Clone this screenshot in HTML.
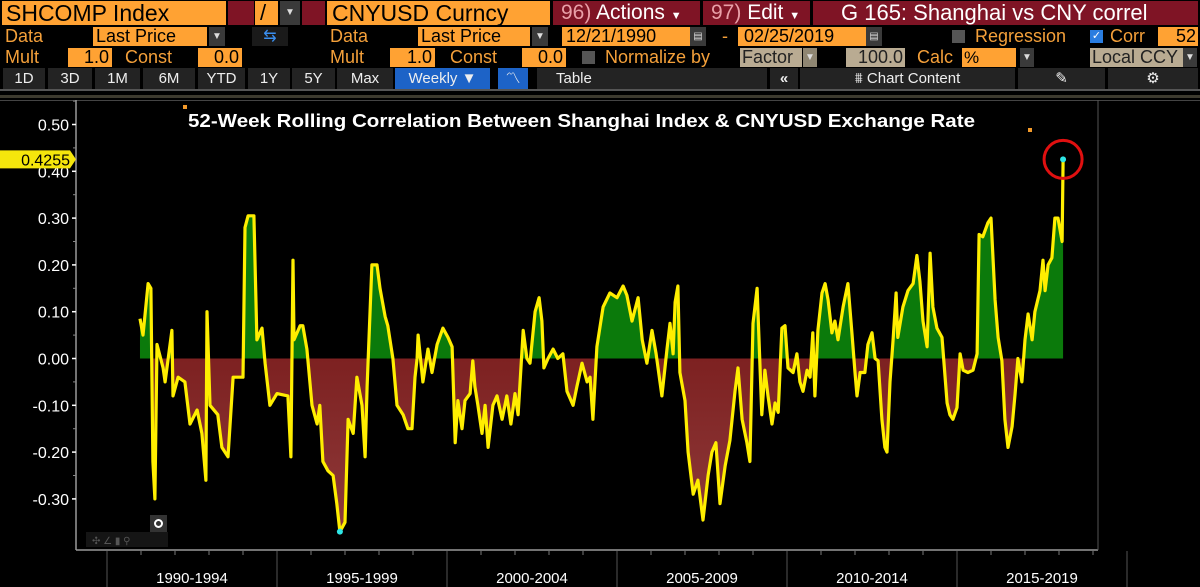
<!DOCTYPE html>
<html><head><meta charset="utf-8">
<style>
body{margin:0;width:1200px;height:587px;background:#000;overflow:hidden;font-family:"Liberation Sans",sans-serif;position:relative}
.a{position:absolute;box-sizing:border-box;white-space:nowrap}
.ob{background:#ffa233;color:#000}
.dr{background:#7f1425;color:#fff}
.ot{color:#f4a03a}
.gb{background:#3a3a3a;color:#ddd;font-size:10px;text-align:center}
.bt{background:#232323;color:#eee;font-size:15px;text-align:center;line-height:21px;top:68px;height:21px}
.bg{background:#b9ab92;color:#222}
</style></head><body>
<div class="a ob" style="left:2px;top:1px;width:224px;height:24px;font-size:23px;line-height:24px;padding-left:4px">SHCOMP Index</div>
<div class="a dr" style="left:228px;top:1px;width:26px;height:24px"></div>
<div class="a ob" style="left:255px;top:1px;width:23px;height:24px;font-size:22px;line-height:24px;padding-left:5px">/</div>
<div class="a gb" style="left:280px;top:1px;width:20px;height:24px;line-height:24px">▼</div>
<div class="a dr" style="left:302px;top:1px;width:23px;height:24px"></div>
<div class="a ob" style="left:327px;top:1px;width:223px;height:24px;font-size:23px;line-height:24px;padding-left:5px">CNYUSD Curncy</div>
<div class="a dr" style="left:553px;top:1px;width:147px;height:24px;font-size:21px;line-height:24px;padding-left:8px"><span style="color:#e9a0a8">96)</span> Actions <span style="font-size:11px">▼</span></div>
<div class="a dr" style="left:703px;top:1px;width:107px;height:24px;font-size:21px;line-height:24px;padding-left:8px"><span style="color:#e9a0a8">97)</span> Edit <span style="font-size:11px">▼</span></div>
<div class="a dr" style="left:813px;top:1px;width:385px;height:24px;font-size:22px;line-height:24px;padding-left:28px">G 165: Shanghai vs CNY correl</div>

<div class="a ot" style="left:5px;top:26px;font-size:18px;line-height:21px">Data</div>
<div class="a ob" style="left:93px;top:27px;width:114px;height:19px;font-size:18px;line-height:19px;padding-left:3px">Last Price</div>
<div class="a gb" style="left:209px;top:27px;width:16px;height:19px;line-height:19px">▼</div>
<div class="a" style="left:252px;top:27px;width:36px;height:19px;background:#1a1a1a;color:#3a8ff0;font-size:16px;line-height:19px;text-align:center">⇆</div>
<div class="a ot" style="left:330px;top:26px;font-size:18px;line-height:21px">Data</div>
<div class="a ob" style="left:418px;top:27px;width:112px;height:19px;font-size:18px;line-height:19px;padding-left:3px">Last Price</div>
<div class="a gb" style="left:532px;top:27px;width:16px;height:19px;line-height:19px">▼</div>
<div class="a ob" style="left:562px;top:27px;width:128px;height:19px;font-size:18px;line-height:19px;padding-left:4px">12/21/1990</div>
<div class="a gb" style="left:690px;top:27px;width:16px;height:19px;line-height:19px">▤</div>
<div class="a ot" style="left:722px;top:26px;font-size:18px;line-height:21px">-</div>
<div class="a ob" style="left:738px;top:27px;width:128px;height:19px;font-size:18px;line-height:19px;padding-left:6px">02/25/2019</div>
<div class="a gb" style="left:866px;top:27px;width:16px;height:19px;line-height:19px">▤</div>
<div class="a" style="left:952px;top:30px;width:13px;height:13px;background:#555"></div>
<div class="a ot" style="left:975px;top:26px;font-size:18px;line-height:21px">Regression</div>
<div class="a" style="left:1090px;top:30px;width:13px;height:13px;background:#2a7de0;color:#fff;font-size:11px;line-height:13px;text-align:center">✓</div>
<div class="a ot" style="left:1110px;top:26px;font-size:18px;line-height:21px">Corr</div>
<div class="a ob" style="left:1158px;top:27px;width:40px;height:19px;font-size:18px;line-height:19px;text-align:right;padding-right:2px">52</div>

<div class="a ot" style="left:5px;top:47px;font-size:18px;line-height:21px">Mult</div>
<div class="a ob" style="left:68px;top:48px;width:44px;height:19px;font-size:18px;line-height:19px;text-align:right;padding-right:3px">1.0</div>
<div class="a ot" style="left:125px;top:47px;font-size:18px;line-height:21px">Const</div>
<div class="a ob" style="left:198px;top:48px;width:44px;height:19px;font-size:18px;line-height:19px;text-align:right;padding-right:3px">0.0</div>
<div class="a ot" style="left:330px;top:47px;font-size:18px;line-height:21px">Mult</div>
<div class="a ob" style="left:390px;top:48px;width:45px;height:19px;font-size:18px;line-height:19px;text-align:right;padding-right:3px">1.0</div>
<div class="a ot" style="left:450px;top:47px;font-size:18px;line-height:21px">Const</div>
<div class="a ob" style="left:522px;top:48px;width:44px;height:19px;font-size:18px;line-height:19px;text-align:right;padding-right:3px">0.0</div>
<div class="a" style="left:582px;top:51px;width:13px;height:13px;background:#555"></div>
<div class="a ot" style="left:605px;top:47px;font-size:18px;line-height:21px">Normalize by</div>
<div class="a bg" style="left:740px;top:48px;width:62px;height:19px;font-size:18px;line-height:19px;padding-left:2px">Factor</div>
<div class="a gb" style="left:803px;top:48px;width:14px;height:19px;line-height:19px;background:#8f8672">▼</div>
<div class="a bg" style="left:846px;top:48px;width:59px;height:19px;font-size:18px;line-height:19px;text-align:right;padding-right:2px">100.0</div>
<div class="a ot" style="left:917px;top:47px;font-size:18px;line-height:21px">Calc</div>
<div class="a ob" style="left:962px;top:48px;width:54px;height:19px;font-size:17px;line-height:19px;padding-left:2px">%</div>
<div class="a gb" style="left:1020px;top:48px;width:14px;height:19px;line-height:19px">▼</div>
<div class="a bg" style="left:1090px;top:48px;width:93px;height:19px;font-size:18px;line-height:19px;padding-left:2px">Local CCY</div>
<div class="a gb" style="left:1183px;top:48px;width:14px;height:19px;line-height:19px">▼</div>

<div class="a bt" style="left:3px;width:42px">1D</div>
<div class="a bt" style="left:48px;width:44px">3D</div>
<div class="a bt" style="left:95px;width:45px">1M</div>
<div class="a bt" style="left:143px;width:52px">6M</div>
<div class="a bt" style="left:198px;width:47px">YTD</div>
<div class="a bt" style="left:248px;width:42px">1Y</div>
<div class="a bt" style="left:292px;width:43px">5Y</div>
<div class="a bt" style="left:337px;width:56px">Max</div>
<div class="a bt" style="left:395px;width:95px;background:#1d63c7">Weekly ▼</div>
<div class="a bt" style="left:498px;width:30px;background:#1d63c7">〽</div>
<div class="a bt" style="left:537px;width:230px;text-align:left;padding-left:19px">Table</div>
<div class="a bt" style="left:770px;width:28px;font-weight:bold">«</div>
<div class="a bt" style="left:800px;width:215px">⩩ Chart Content</div>
<div class="a bt" style="left:1018px;width:87px">✎</div>
<div class="a bt" style="left:1108px;width:90px">⚙</div>

<svg class="a" style="left:0;top:0" width="1200" height="587">
<defs>
<linearGradient id="rg" x1="0" y1="0" x2="0" y2="1"><stop offset="0" stop-color="#6a0404"/><stop offset="1" stop-color="#8e3a3a"/></linearGradient>
<clipPath id="above"><rect x="0" y="0" width="1200" height="358.5"/></clipPath>
<clipPath id="below"><rect x="0" y="358.5" width="1200" height="300"/></clipPath>
</defs>
<g>
<rect x="0" y="89" width="1200" height="2" fill="#555"/>
<rect x="0" y="95" width="1200" height="3" fill="#3d3a2e"/>
<rect x="0" y="100" width="1200" height="1" fill="#444"/>
</g>
<g id="axes"></g>
<g id="series"></g>
<text x="188" y="127" fill="#fff" font-size="18" font-weight="bold" textLength="787" lengthAdjust="spacingAndGlyphs" font-family="Liberation Sans, sans-serif">52-Week Rolling Correlation Between Shanghai Index &amp; CNYUSD Exchange Rate</text>
<rect x="183" y="105" width="4" height="4" fill="#f39a2a"/>
<rect x="1028" y="128" width="4" height="4" fill="#f39a2a"/>
<g>
<rect x="150" y="515" width="17" height="17" fill="#333"/>
<circle cx="158.5" cy="523.5" r="3.5" fill="none" stroke="#fff" stroke-width="2"/>
<rect x="86" y="532" width="82" height="15" fill="#151515"/>
<text x="92" y="544" fill="#555" font-size="10">✣  ∠  ▮  ⚲</text>
</g>
</svg>

<script>
const years=[1990.97,1991.06,1991.21,1991.29,1991.35,1991.41,1991.47,1991.65,1991.71,1991.91,1991.94,1992.09,1992.29,1992.44,1992.65,1992.79,1992.91,1992.94,1993.03,1993.26,1993.38,1993.56,1993.71,1994.00,1994.06,1994.15,1994.32,1994.41,1994.56,1994.65,1994.79,1995.00,1995.32,1995.41,1995.47,1995.50,1995.68,1995.76,1995.88,1996.03,1996.18,1996.26,1996.35,1996.50,1996.65,1996.76,1996.85,1997.00,1997.09,1997.24,1997.35,1997.50,1997.59,1997.65,1997.79,1997.94,1998.03,1998.18,1998.26,1998.41,1998.53,1998.71,1998.85,1998.97,1999.06,1999.12,1999.15,1999.29,1999.44,1999.56,1999.71,
1999.88,2000.03,2000.15,2000.24,2000.32,2000.44,2000.53,2000.68,2000.76,2000.82,2000.91,2001.03,2001.12,2001.21,2001.35,2001.47,2001.62,2001.76,2001.88,2002.00,2002.09,2002.15,2002.24,2002.35,2002.44,2002.59,2002.71,2002.79,2002.85,2002.97,2003.12,2003.26,2003.41,2003.53,2003.71,2003.82,2003.97,2004.12,2004.21,2004.29,2004.41,2004.59,2004.79,2005.00,2005.18,2005.29,2005.44,2005.62,2005.74,2005.88,2006.03,2006.15,2006.32,2006.47,2006.56,2006.65,2006.71,2006.79,2006.85,2007.00,2007.09,2007.24,2007.38,2007.53,2007.68,2007.79,2007.91,2008.03,2008.18,2008.32,2008.47,2008.56,2008.68,2008.82,2008.91,2009.00,2009.12,
2009.26,2009.35,2009.44,2009.56,2009.65,2009.74,2009.85,2009.94,2010.03,2010.18,2010.29,2010.38,2010.47,2010.59,2010.68,2010.76,2010.82,2010.91,2011.03,2011.12,2011.21,2011.32,2011.41,2011.50,2011.65,2011.79,2011.91,2012.00,2012.06,2012.15,2012.29,2012.38,2012.50,2012.59,2012.68,2012.79,2012.88,2012.94,2013.03,2013.12,2013.21,2013.26,2013.41,2013.56,2013.71,2013.82,2013.91,2014.00,2014.12,2014.21,2014.29,2014.41,2014.56,2014.71,2014.79,2014.88,2015.00,2015.09,2015.18,2015.32,2015.47,2015.59,2015.65,2015.76,2015.91,2016.00,2016.12,2016.21,2016.32,2016.41,2016.50,2016.62,2016.71,2016.79,2016.91,2017.00,2017.09,2017.21,2017.29,2017.44,2017.53,2017.59,2017.68,2017.79,2017.88,2017.97,2018.09,2018.12];
const corr=[0.085,0.05,0.16,0.15,-0.22,-0.30,0.03,-0.02,-0.05,0.06,-0.08,-0.04,-0.05,-0.14,-0.11,-0.16,-0.26,0.10,-0.10,-0.12,-0.19,-0.21,-0.04,-0.04,0.28,0.305,0.305,0.04,0.065,-0.01,-0.10,-0.075,-0.08,-0.21,0.21,0.04,0.07,0.07,0.02,-0.10,-0.14,-0.10,-0.22,-0.24,-0.25,-0.31,-0.37,-0.35,-0.13,-0.16,-0.04,-0.10,-0.21,-0.06,0.20,0.20,0.15,0.09,0.07,0.00,-0.10,-0.12,-0.15,-0.15,-0.04,0.00,0.05,-0.05,0.02,-0.03,0.03,
0.065,0.045,0.025,-0.18,-0.09,-0.15,-0.09,-0.075,-0.005,-0.06,-0.10,-0.16,-0.10,-0.19,-0.10,-0.08,-0.13,-0.08,-0.14,-0.075,-0.12,-0.05,0.06,0.00,-0.01,0.10,0.13,0.08,-0.02,0.00,0.02,0.00,0.01,-0.07,-0.10,-0.06,-0.01,-0.05,-0.04,-0.13,0.025,0.11,0.14,0.13,0.155,0.135,0.08,0.13,0.04,-0.01,0.06,0.01,-0.08,0.02,0.075,0.01,0.12,0.155,-0.03,-0.09,-0.20,-0.29,-0.26,-0.345,-0.25,-0.20,-0.18,-0.31,-0.23,-0.175,-0.07,-0.02,-0.13,-0.18,-0.22,0.075,0.15,
-0.12,-0.025,-0.08,-0.14,-0.095,-0.115,0.065,0.07,-0.02,-0.03,0.01,-0.05,-0.07,-0.025,-0.04,0.055,-0.08,0.06,0.14,0.16,0.125,0.055,0.08,0.04,0.11,0.16,0.055,-0.03,-0.08,-0.03,-0.03,0.03,0.055,0.00,-0.005,-0.13,-0.19,-0.20,-0.05,0.04,0.14,0.045,0.11,0.145,0.16,0.22,0.165,0.08,0.025,0.225,0.11,0.065,0.045,-0.095,-0.12,-0.13,-0.105,0.01,-0.025,-0.03,-0.025,0.01,0.265,0.26,0.29,0.30,0.125,0.045,-0.005,-0.13,-0.19,-0.145,-0.075,0.00,-0.05,0.04,0.095,0.04,0.10,0.145,0.21,0.145,0.20,0.215,0.30,0.30,0.25,0.4255];
const yTicks=[0.5,0.4,0.3,0.2,0.1,0,-0.1,-0.2,-0.3];
const periodStarts=[1990,1995,2000,2005,2010,2015,2020];
const periodLabels=["1990-1994","1995-1999","2000-2004","2005-2009","2010-2014","2015-2019"];
const lastValue=0.4255;

const NS="http://www.w3.org/2000/svg";
const X=y=>107+(y-1990)*34;
const Y=v=>358.5-v*468;
function mk(tag,attrs,parent){const e=document.createElementNS(NS,tag);for(const k in attrs)e.setAttribute(k,attrs[k]);parent.appendChild(e);return e;}
const ax=document.getElementById('axes'), se=document.getElementById('series');
let l=mk('line',{x1:76,y1:100,x2:76,y2:550,stroke:'#999','stroke-width':1.5},ax);


l=mk('line',{x1:76,y1:550,x2:1098,y2:550,stroke:'#999','stroke-width':1.5},ax);


l=mk('line',{x1:1098,y1:100,x2:1098,y2:550,stroke:'#555','stroke-width':1},ax);


yTicks.forEach(v=>{
  const t=mk('text',{x:69,y:Y(v)+6,fill:'#fff','font-size':16,'text-anchor':'end','font-family':'Liberation Sans, sans-serif'},ax);
  t.textContent=v.toFixed(2);
  
  
  mk('line',{x1:72,y1:Y(v),x2:76,y2:Y(v),stroke:'#fff','stroke-width':1.5},ax);
  mk('line',{x1:73,y1:Y(v+0.05),x2:76,y2:Y(v+0.05),stroke:'#888','stroke-width':1},ax);
});
periodStarts.forEach((p,i)=>{
  const s=mk('line',{x1:X(p),y1:551,x2:X(p),y2:587,stroke:'#555','stroke-width':1},ax);
  
  
  for(let k=1;k<5&&i<periodStarts.length-1;k++) mk('line',{x1:X(p+k),y1:551,x2:X(p+k),y2:555,stroke:'#777'},ax);
  if(i<periodLabels.length){
    const t=mk('text',{x:X(p+2.5),y:583,fill:'#fff','font-size':15,'text-anchor':'middle','font-family':'Liberation Sans, sans-serif'},ax);
    t.textContent=periodLabels[i];
    
    
  }
});
let pts=years.map((y,i)=>X(y).toFixed(1)+','+Y(corr[i]).toFixed(1));
const area='M'+X(years[0])+','+Y(0)+' L'+pts.join(' L')+' L'+X(years[years.length-1])+','+Y(0)+'Z';
let a=mk('path',{d:area,fill:'#0b7a0b','clip-path':'url(#above)'},se);


a=mk('path',{d:area,fill:'url(#rg)','clip-path':'url(#below)'},se);


const ln=mk('polyline',{points:pts.join(' '),fill:'none',stroke:'#ffee00','stroke-width':3.2,'stroke-linejoin':'round'},se);


let mi=0;corr.forEach((v,i)=>{if(v<corr[mi])mi=i;});
let c=mk('circle',{cx:X(years[mi]),cy:Y(corr[mi]),r:3,fill:'#2ee6e6'},se);


const li=years.length-1;
c=mk('circle',{cx:X(years[li]),cy:Y(corr[li]),r:3,fill:'#2ee6e6'},se);


c=mk('circle',{cx:X(years[li]),cy:Y(corr[li]),r:19,fill:'none',stroke:'#e01010','stroke-width':3},se);


const ly=Y(lastValue);
const tag=mk('path',{d:`M0,${ly-9} L70,${ly-9} L76,${ly} L70,${ly+9} L0,${ly+9}Z`,fill:'#f5e60c'},se);


const tt=mk('text',{x:70,y:ly+6,fill:'#000','font-size':16,'text-anchor':'end','font-family':'Liberation Sans, sans-serif'},se);
tt.textContent=lastValue.toFixed(4);


</script>
</body></html>
